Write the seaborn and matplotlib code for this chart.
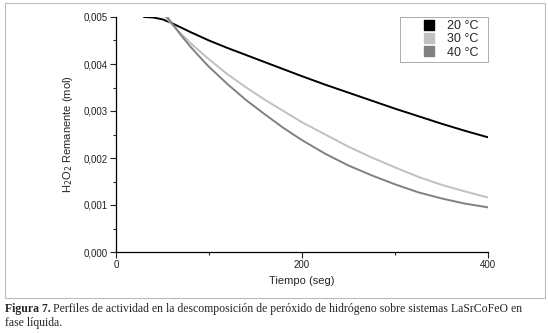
import numpy as np
import pandas as pd
import matplotlib
matplotlib.use("Agg")
import matplotlib.pyplot as plt
import matplotlib.patches as mpatches
from matplotlib.lines import Line2D
from matplotlib.ticker import MultipleLocator, FuncFormatter
import seaborn as sns

# values
t_20 = [30, 40, 50, 60, 80, 100, 120, 140, 160, 180, 200, 225, 250, 275, 300, 325, 350, 375, 400]
h_20 = [0.00500, 0.00499, 0.00495, 0.00487, 0.00468, 0.00450, 0.00434, 0.00419, 0.00404, 0.00389,
        0.00374, 0.00356, 0.00339, 0.00322, 0.00305, 0.00289, 0.00273, 0.00258, 0.00244]
t_30 = [53, 60, 70, 80, 90, 100, 120, 140, 160, 180, 200, 225, 250, 275, 300, 325, 350, 375, 400]
h_30 = [0.00500, 0.00485, 0.00464, 0.00445, 0.00427, 0.00410, 0.00378, 0.00350, 0.00324, 0.00300,
        0.00276, 0.00250, 0.00224, 0.00201, 0.00180, 0.00160, 0.00143, 0.00129, 0.00116]
t_40 = [55, 60, 70, 80, 90, 100, 120, 140, 160, 180, 200, 225, 250, 275, 300, 325, 350, 375, 400]
h_40 = [0.00500, 0.00487, 0.00461, 0.00437, 0.00415, 0.00394, 0.00357, 0.00323, 0.00293, 0.00264,
        0.00238, 0.00209, 0.00184, 0.00163, 0.00144, 0.00127, 0.00114, 0.00103, 0.00095]
labels = ["20 °C", "30 °C", "40 °C"]
colors = ["#000000", "#c0c0c0", "#808080"]

df = pd.concat([
    pd.DataFrame({"t": t_20, "h": h_20, "temp": labels[0]}),
    pd.DataFrame({"t": t_30, "h": h_30, "temp": labels[1]}),
    pd.DataFrame({"t": t_40, "h": h_40, "temp": labels[2]}),
])

sns.set_style("white")
plt.rcParams["font.family"] = ["Liberation Sans", "DejaVu Sans"]

fig = plt.figure(figsize=(5.48, 3.33), dpi=100)
ax = fig.add_axes([116/548, 1-252/333, (488-116)/548, (252-17)/333])

sns.lineplot(data=df, x="t", y="h", hue="temp", palette=dict(zip(labels, colors)),
             linewidth=1.4, ax=ax, legend=False, sort=True)

ax.set_xlim(0, 400)
ax.set_ylim(0, 0.005)
ax.xaxis.set_major_locator(MultipleLocator(200))
ax.xaxis.set_minor_locator(MultipleLocator(100))
ax.yaxis.set_major_locator(MultipleLocator(0.001))
ax.yaxis.set_minor_locator(MultipleLocator(0.0005))
ax.yaxis.set_major_formatter(FuncFormatter(lambda v, p: f"{v:.3f}".replace(".", ",")))
ax.tick_params(which="major", direction="out", length=4, width=0.8, labelsize=7, colors="#222222",
               left=True, bottom=True, pad=2)
ax.tick_params(which="minor", direction="out", length=2.5, width=0.8, left=True, bottom=True)
for s in ["top", "right"]:
    ax.spines[s].set_visible(False)
for s in ["left", "bottom"]:
    ax.spines[s].set_color("black")
    ax.spines[s].set_linewidth(0.9)

ax.set_xlabel("Tiempo (seg)", fontsize=8, labelpad=4)
ax.set_ylabel("H$_2$O$_2$ Remanente (mol)", fontsize=8, labelpad=6)

handles = [Line2D([], [], marker="s", linestyle="none", markersize=7.5, color=c, label=l + "\u2002")
           for c, l in zip(colors, labels)]
leg = ax.legend(handles=handles, loc="upper right", fontsize=9, frameon=True, fancybox=False,
                handlelength=4.2, handletextpad=-0.65, borderpad=0.25,
                labelspacing=0.1, borderaxespad=0, bbox_to_anchor=(1.0, 1.0))
leg.get_frame().set_edgecolor("#888888")
leg.get_frame().set_linewidth(0.6)

# outer gray frame and caption
fig.patches.append(mpatches.Rectangle((5/548, 1-298/333), 540/548, 295/333, transform=fig.transFigure,
                                      fill=False, edgecolor="#bbbbbb", linewidth=0.8))
bold = fig.text(5/548, 1-309/333, "Figura 7.", fontsize=8.5, family="Liberation Serif",
                weight="bold", va="center")
fig.canvas.draw()
bb = bold.get_window_extent().transformed(fig.transFigure.inverted())
fig.text(bb.x1 + 2/548, 1-309/333,
         "Perfiles de actividad en la descomposición de peróxido de hidrógeno sobre sistemas LaSrCoFeO en",
         fontsize=8.5, family="Liberation Serif", va="center")
fig.text(5/548, 1-323/333, "fase líquida.", fontsize=8.5, family="Liberation Serif", va="center")

fig.savefig("out.png", dpi=100)
